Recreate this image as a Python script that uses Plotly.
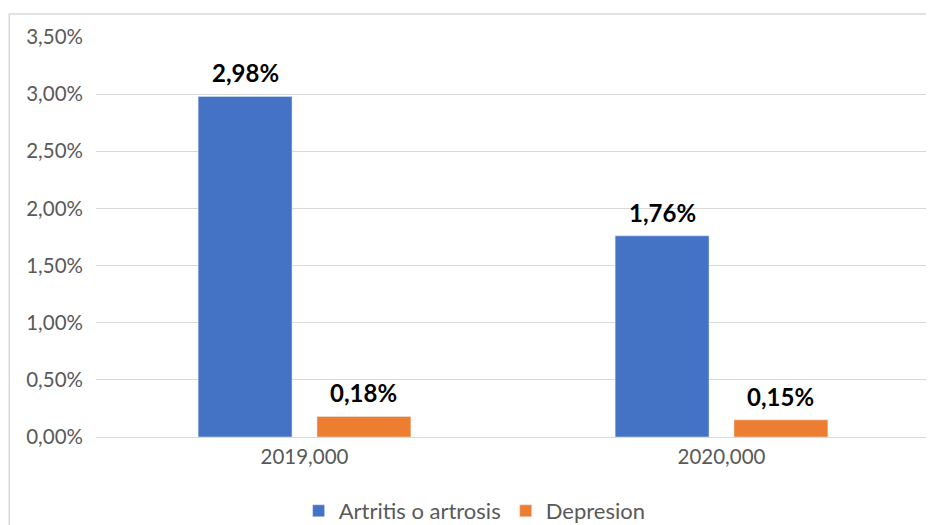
import plotly.graph_objects as go

categories = ["2019,000", "2020,000"]
artritis = [2.98, 1.76]
depresion = [0.18, 0.15]
series_names = ["Artritis o artrosis", "Depresion"]
tick_vals = [0, 0.5, 1.0, 1.5, 2.0, 2.5, 3.0, 3.5]
tick_text = ["0,00%", "0,50%", "1,00%", "1,50%", "2,00%", "2,50%", "3,00%", "3,50%"]

BARGAP = 0.43
GROUPGAP = 0.21
series = [(series_names[0], artritis, "#4472C4"), (series_names[1], depresion, "#ED7D31")]

def fmt(v):
    return "<b>" + f"{v:.2f}".replace(".", ",") + "%</b>"

fig = go.Figure()
for name, vals, color in series:
    fig.add_trace(go.Bar(x=categories, y=vals, name=name, marker_color=color))

# data labels: placed at each bar's centre on the category axis
slot = (1 - BARGAP) / len(series)
annotations = []
for k, (name, vals, color) in enumerate(series):
    offset = (k - (len(series) - 1) / 2) * slot
    for i, v in enumerate(vals):
        annotations.append(dict(
            x=i + offset, y=v, xref="x", yref="y", text=fmt(v), showarrow=False,
            yanchor="bottom", yshift=7,
            font=dict(family="Lato", size=24, color="#000000"),
        ))

# page body has an 8px margin, so the figure starts at (8, 8) in the window
fig.update_layout(
    width=926, height=517,
    margin=dict(l=88, r=4, t=29, b=88, autoexpand=False),
    paper_bgcolor="white", plot_bgcolor="white",
    font=dict(family="Lato", size=20.5, color="#595959"),
    bargap=BARGAP, bargroupgap=GROUPGAP,
    showlegend=True,
    legend=dict(orientation="h", x=0.454, xanchor="center", y=-0.185, yanchor="middle",
                font=dict(family="Lato", size=22, color="#595959"), traceorder="normal",
                itemwidth=30),
    xaxis=dict(showgrid=False, showline=False, ticks="", automargin=False, ticklabelstandoff=5,
               tickfont=dict(size=20.5, color="#595959")),
    yaxis=dict(range=[0, 3.5], tickvals=tick_vals, ticktext=tick_text, showgrid=True,
               gridcolor="#D9D9D9", gridwidth=1, zeroline=True, zerolinecolor="#D9D9D9",
               zerolinewidth=1, showline=False, ticks="", ticklabelstandoff=12, automargin=False,
               tickfont=dict(size=20.5, color="#595959")),
    annotations=annotations,
    shapes=[dict(type="rect", xref="paper", yref="paper", x0=-0.104, x1=1.02, y0=-0.3, y1=1.0575,
                 line=dict(color="#D9D9D9", width=1.5), fillcolor="rgba(0,0,0,0)", layer="below")],
)

fig.write_html("out.html")
